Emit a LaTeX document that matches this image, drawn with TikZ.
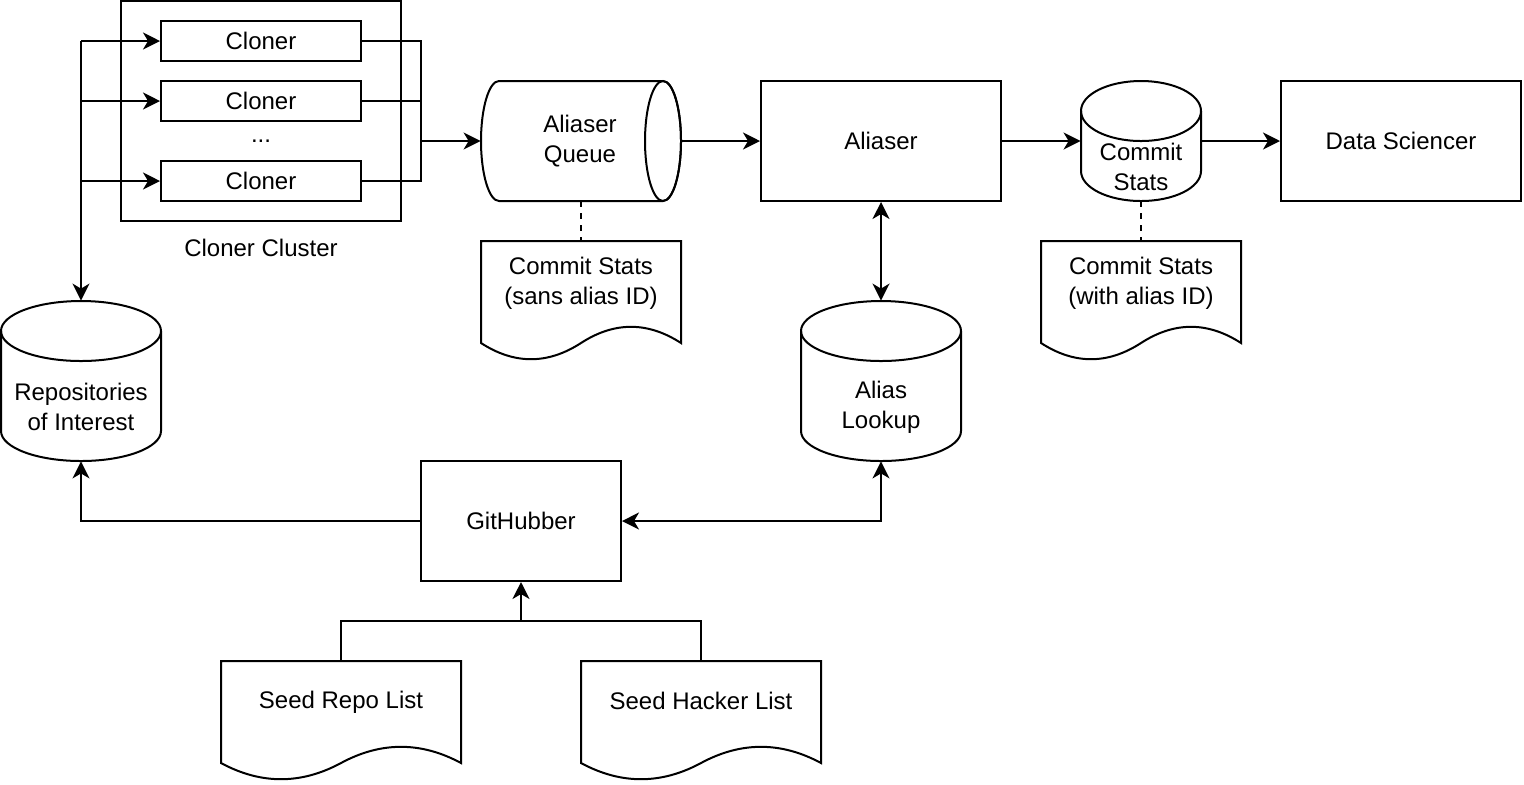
\documentclass[tikz,border=0pt]{standalone}
\usepackage{fontspec}
\setmainfont{Liberation Sans}
\usetikzlibrary{arrows.meta,calc}
\begin{document}
\begin{tikzpicture}[x=0.5pt,y=-0.5pt,
  every node/.style={font=\fontsize{12}{15}\selectfont, align=center, inner sep=0pt},
  line/.style={line width=1pt, line join=miter},
  box/.style={draw, line width=1pt, rectangle, minimum width=#1},
  ghost/.style={rectangle, minimum width=#1},
  arr/.style={line, -{Stealth[length=8.5pt,width=8.5pt,inset=2.5pt]}},
  arrr/.style={line, {Stealth[length=8.5pt,width=8.5pt,inset=2.5pt]}-{Stealth[length=8.5pt,width=8.5pt,inset=2.5pt]}},
  dsh/.style={line, dash pattern=on 3pt off 3pt}
]
\useasboundingbox (0,0) rectangle (1524,784);

% Cloner cluster
\node[box=140pt, minimum height=110pt] (cluster) at (261,111) {};
\node[box=100pt, minimum height=20pt] (c1) at (261,41) {Cloner};
\node[box=100pt, minimum height=20pt] (c2) at (261,101) {Cloner};
\node[box=100pt, minimum height=20pt] (c3) at (261,181) {Cloner};
\node[anchor=base] (dots) at (261,142) {...};
\node (clabel) at (261,248) {Cloner Cluster};

% Aliaser Queue (horizontal cylinder)
\node[ghost=100pt, minimum height=60pt] (queue) at (581,141) {};
\draw[line] (499,81) -- (663,81) arc[start angle=90,end angle=-90,x radius=9pt,y radius=30pt]
  -- (499,201) arc[start angle=270,end angle=90,x radius=9pt,y radius=30pt] -- cycle;
\draw[line] (663,141) ellipse[x radius=9pt,y radius=30pt];
\node (queueT) at (580,141) {Aliaser\\Queue};

% Aliaser
\node[box=120pt, minimum height=60pt] (aliaser) at (881,141) {Aliaser};

% Commit Stats cylinder
\node[ghost=60pt, minimum height=60pt] (commit) at (1141,141) {};
\draw[line] (1081,111) -- (1081,171) arc[start angle=180,end angle=360,x radius=30pt,y radius=15pt] -- (1201,111);
\draw[line] (1141,111) ellipse[x radius=30pt,y radius=15pt];
\node (commitT) at (1141,167) {Commit\\Stats};

% Data Sciencer
\node[box=120pt, minimum height=60pt] (datasci) at (1401,141) {Data Sciencer};

% Repositories of Interest cylinder
\node[ghost=80pt, minimum height=80pt] (repos) at (81,381) {};
\draw[line] (1,331) -- (1,431) arc[start angle=180,end angle=360,x radius=40pt,y radius=15pt] -- (161,331);
\draw[line] (81,331) ellipse[x radius=40pt,y radius=15pt];
\node (reposT) at (81,407) {Repositories\\of Interest};

% Alias Lookup cylinder
\node[ghost=80pt, minimum height=80pt] (alias) at (881,381) {};
\draw[line] (801,331) -- (801,431) arc[start angle=180,end angle=360,x radius=40pt,y radius=15pt] -- (961,331);
\draw[line] (881,331) ellipse[x radius=40pt,y radius=15pt];
\node (aliasT) at (881,407) {Alias\\Lookup};

% Documents
\node[ghost=100pt, minimum height=60pt] (sans) at (581,301) {};
\draw[line] (481,241) -- (681,241) -- (681,343) .. controls (647.67,321.4) and (614.33,321.4) .. (581,343)
  .. controls (547.67,364.6) and (514.33,364.6) .. (481,343) -- cycle;
\node (sansT) at (581,283) {Commit Stats\\(sans alias ID)};

\node[ghost=100pt, minimum height=60pt] (with) at (1141,301) {};
\draw[line] (1041,241) -- (1241,241) -- (1241,343) .. controls (1207.67,321.4) and (1174.33,321.4) .. (1141,343)
  .. controls (1107.67,364.6) and (1074.33,364.6) .. (1041,343) -- cycle;
\node (withT) at (1141,283) {Commit Stats\\(with alias ID)};

\node[ghost=120pt, minimum height=60pt] (seedrepo) at (341,721) {};
\draw[line] (221,661) -- (461,661) -- (461,763) .. controls (421,741.4) and (381,741.4) .. (341,763)
  .. controls (301,784.6) and (261,784.6) .. (221,763) -- cycle;
\node (seedrepoT) at (341,702) {Seed Repo List};

\node[ghost=120pt, minimum height=60pt] (seedhack) at (701,721) {};
\draw[line] (581,661) -- (821,661) -- (821,763) .. controls (781,741.4) and (741,741.4) .. (701,763)
  .. controls (661,784.6) and (621,784.6) .. (581,763) -- cycle;
\node (seedhackT) at (701,701) {Seed Hacker List};

% GitHubber
\node[box=100pt, minimum height=60pt] (github) at (521,521) {GitHubber};

% Connectors
\coordinate (trunk) at (81,41);
\coordinate (merge) at (421,141);
\coordinate (join) at (521,621);
\draw[arr] (trunk) -- (repos.north);
\draw[arr] (trunk) -- (c1.west);
\draw[arr] (c2.west -| trunk) -- (c2.west);
\draw[arr] (c3.west -| trunk) -- (c3.west);
\draw[line] (c1.east) -| (merge);
\draw[line] (c3.east) -| (merge);
\draw[line] (c2.east) -- (c2.east -| merge);
\draw[arr] (merge) -- (queue.west);
\draw[arr] (queue.east) -- (aliaser.west);
\draw[arr] (aliaser.east) -- (commit.west);
\draw[arr] (commit.east) -- (datasci.west);
\draw[dsh] (queue.south) -- (sans.north);
\draw[dsh] (commit.south) -- (with.north);
\draw[arrr] (aliaser.south) -- (alias.north);
\draw[arr] (github.west) -| (repos.south);
\draw[arrr] (github.east) -| (alias.south);
\draw[line] (seedrepo.north) |- (join);
\draw[line] (seedhack.north) |- (join);
\draw[arr] (join) -- (github.south);
\end{tikzpicture}
\end{document}
